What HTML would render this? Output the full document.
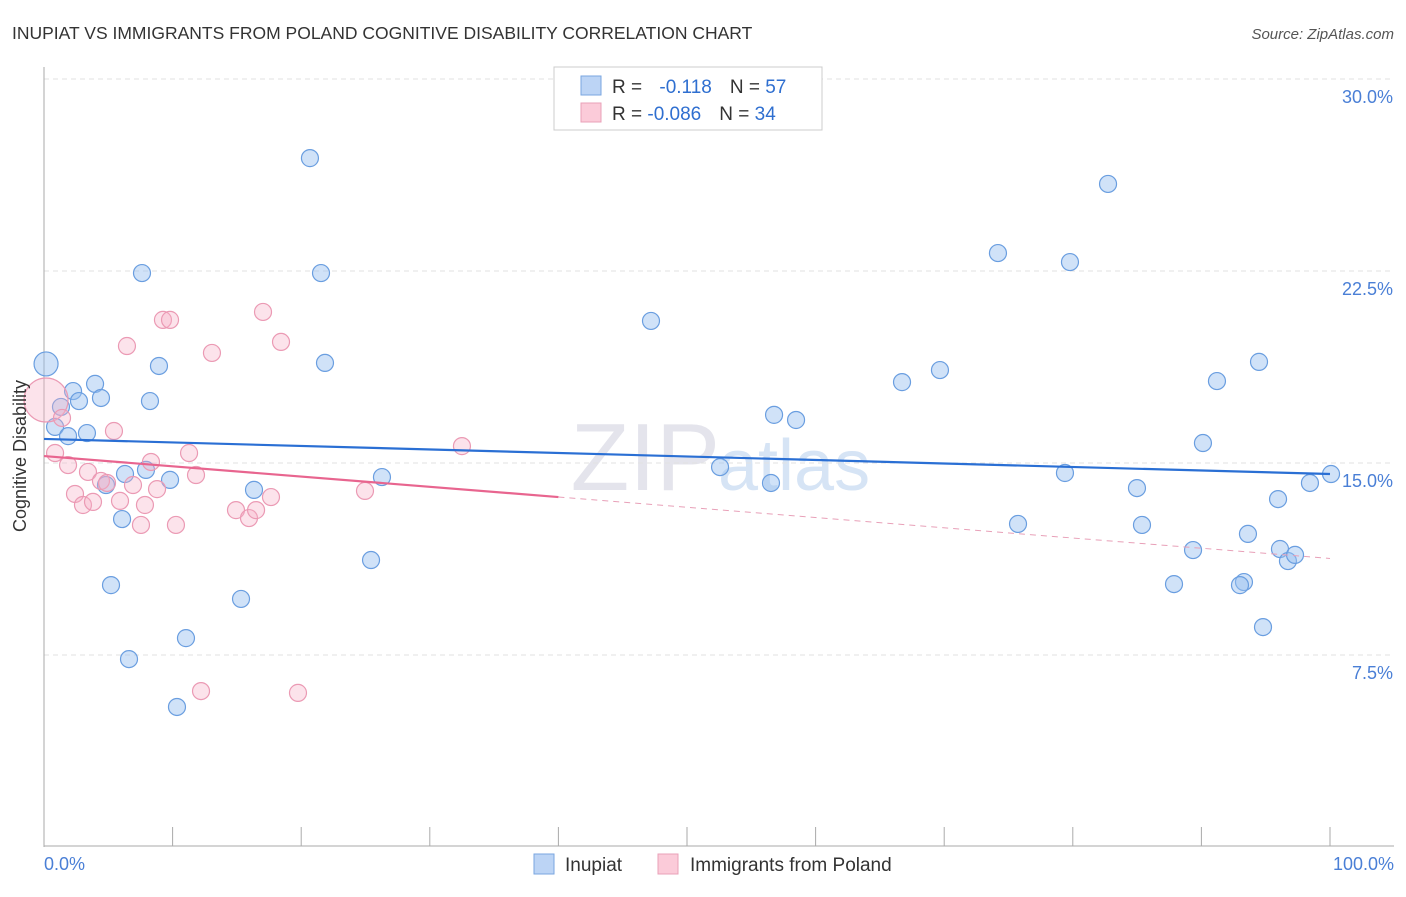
<!DOCTYPE html>
<html><head><meta charset="utf-8"><style>
body{margin:0;background:#fff;font-family:"Liberation Sans",sans-serif;}
svg text{font-family:"Liberation Sans",sans-serif;}
</style></head><body>
<svg width="1406" height="892" id="c">
<text x="12" y="39" font-size="17.5" fill="#333">INUPIAT VS IMMIGRANTS FROM POLAND COGNITIVE DISABILITY CORRELATION CHART</text>
<text x="1394" y="39" font-size="15" fill="#555" text-anchor="end" font-style="italic">Source: ZipAtlas.com</text>
<text x="720" y="490" font-size="96" fill="#e4e4ec" text-anchor="end" font-family="Liberation Serif">ZIP</text>
<text x="718" y="490" font-size="72" fill="#d6e4f5">atlas</text>
<g id="grid"></g><g id="axes"></g><g id="pts"></g><g id="lines"></g>
<text x="26" y="456" font-size="18" fill="#333" text-anchor="middle" transform="rotate(-90 26 456)">Cognitive Disability</text>
<text x="44" y="870" font-size="18" fill="#4a7fd6">0.0%</text>
<text x="1394" y="870" font-size="18" fill="#4a7fd6" text-anchor="end">100.0%</text>
<g>
<rect x="554" y="67" width="268" height="63" fill="#fff" stroke="#ccc"/>
<rect x="581" y="76" width="20" height="19" fill="#bcd4f5" stroke="#7aa6e0"/>
<rect x="581" y="103" width="20" height="19" fill="#fbcbd9" stroke="#eaa0b8"/>
<text x="612" y="93" font-size="19" fill="#333">R = <tspan fill="#2f6fd0" dx="12">-0.118</tspan><tspan fill="#333" dx="18">N = </tspan><tspan fill="#2f6fd0">57</tspan></text>
<text x="612" y="120" font-size="19" fill="#333">R = <tspan fill="#2f6fd0">-0.086</tspan><tspan fill="#333" dx="18">N = </tspan><tspan fill="#2f6fd0">34</tspan></text>
</g>
<g>
<rect x="534" y="854" width="20" height="20" fill="#bcd4f5" stroke="#7aa6e0"/>
<text x="565" y="871" font-size="19" fill="#333">Inupiat</text>
<rect x="658" y="854" width="20" height="20" fill="#fbcbd9" stroke="#eaa0b8"/>
<text x="690" y="871" font-size="19" fill="#333">Immigrants from Poland</text>
</g>
</svg>
<script>
const yTicks=[7.5,15,22.5,30];
const yTickLabels=["7.5%","15.0%","22.5%","30.0%"];
const xTicks=[0,10,20,30,40,50,60,70,80,90,100];
const inupiatX=[0.16,20.68,7.62,21.54,2.26,3.97,2.72,4.43,8.24,8.94,21.85,0.86,1.87,3.34,1.32,6.30,7.93,4.82,9.80,6.07,16.33,26.28,5.21,15.32,11.04,6.61,10.34,25.43,47.20,56.77,58.48,52.57,56.53,66.72,69.67,74.18,79.78,82.74,79.39,75.74,84.99,85.38,89.35,87.87,90.12,91.21,94.48,93.62,95.96,93.31,93.00,94.79,96.11,96.73,97.28,98.44,100.08];
const inupiatY=[18.87,26.91,22.42,22.42,17.81,18.09,17.42,17.54,17.42,18.79,18.91,16.41,16.05,16.17,17.19,14.57,14.73,14.14,14.34,12.81,13.95,14.45,10.23,9.69,8.16,7.34,5.47,11.21,20.55,16.88,16.68,14.84,14.22,18.16,18.63,23.20,22.85,25.90,14.61,12.62,14.02,12.58,11.60,10.27,15.78,18.20,18.95,12.23,13.59,10.35,10.23,8.59,11.64,11.17,11.41,14.22,14.57];
const polandX=[0.16,0.86,1.40,1.87,2.41,3.03,3.42,3.81,4.43,4.90,5.44,6.45,5.91,6.92,7.54,7.85,8.32,8.79,9.25,9.80,10.26,11.28,11.82,13.06,12.21,14.93,15.94,16.49,17.03,17.65,18.43,19.75,24.96,32.50];
const polandY=[17.46,15.39,16.76,14.92,13.79,13.36,14.65,13.48,14.30,14.22,16.25,19.57,13.52,14.14,12.58,13.36,15.04,13.98,20.59,20.59,12.58,15.39,14.53,19.30,6.09,13.16,12.85,13.16,20.90,13.67,19.73,6.02,13.91,15.66];
const inupiatTrend=[15.94,14.57];
const polandTrend=[15.27,11.27];
const polandSolidEnd=40;
const NS='http://www.w3.org/2000/svg';
const xs=v=>44+v*12.86, ys=v=>847-v*25.6;
function mk(t,a,p){const e=document.createElementNS(NS,t);for(const k in a)e.setAttribute(k,a[k]);document.getElementById(p).appendChild(e);return e;}
yTicks.forEach((t,i)=>{
 const g=mk('line',{x1:44,x2:1394,y1:ys(t),y2:ys(t),stroke:'#e2e2e2','stroke-dasharray':'5,4'},'grid');
 
 
 const l=mk('text',{x:1393,y:ys(t)+24,'font-size':18,fill:'#4a7fd6','text-anchor':'end'},'grid');
 l.textContent=yTickLabels[i];
 
 
});
const ax=mk('line',{x1:44,x2:44,y1:67,y2:847,stroke:'#aaa'},'axes');


const bx=mk('line',{x1:44,x2:1394,y1:846,y2:846,stroke:'#aaa'},'axes');


xTicks.forEach(t=>{
 const k=mk('line',{x1:xs(t),x2:xs(t),y1:827,y2:846,stroke:'#aaa'},'axes');
 
 
});
inupiatX.forEach((x,i)=>{
 const c=mk('circle',{cx:xs(x),cy:ys(inupiatY[i]),r:i===0?12:8.5,fill:'rgba(150,190,240,0.45)',stroke:'#6a9ee0','stroke-width':1.2},'pts');
 
 
});
polandX.forEach((x,i)=>{
 const c=mk('circle',{cx:xs(x),cy:ys(polandY[i]),r:i===0?22:8.5,fill:'rgba(245,175,198,0.35)',stroke:'#eb9ab4','stroke-width':1.2},'pts');
 
 
});
const bl=mk('line',{x1:xs(0),y1:ys(inupiatTrend[0]),x2:xs(100),y2:ys(inupiatTrend[1]),stroke:'#2a6fd4','stroke-width':2.2},'lines');


const pm=polandTrend[0]+(polandTrend[1]-polandTrend[0])*polandSolidEnd/100;
const pl=mk('line',{x1:xs(0),y1:ys(polandTrend[0]),x2:xs(polandSolidEnd),y2:ys(pm),stroke:'#e8658f','stroke-width':2.2},'lines');


const pd=mk('line',{x1:xs(polandSolidEnd),y1:ys(pm),x2:xs(100),y2:ys(polandTrend[1]),stroke:'#e8a0b8','stroke-width':1,'stroke-dasharray':'6,5'},'lines');


</script>
</body></html>
